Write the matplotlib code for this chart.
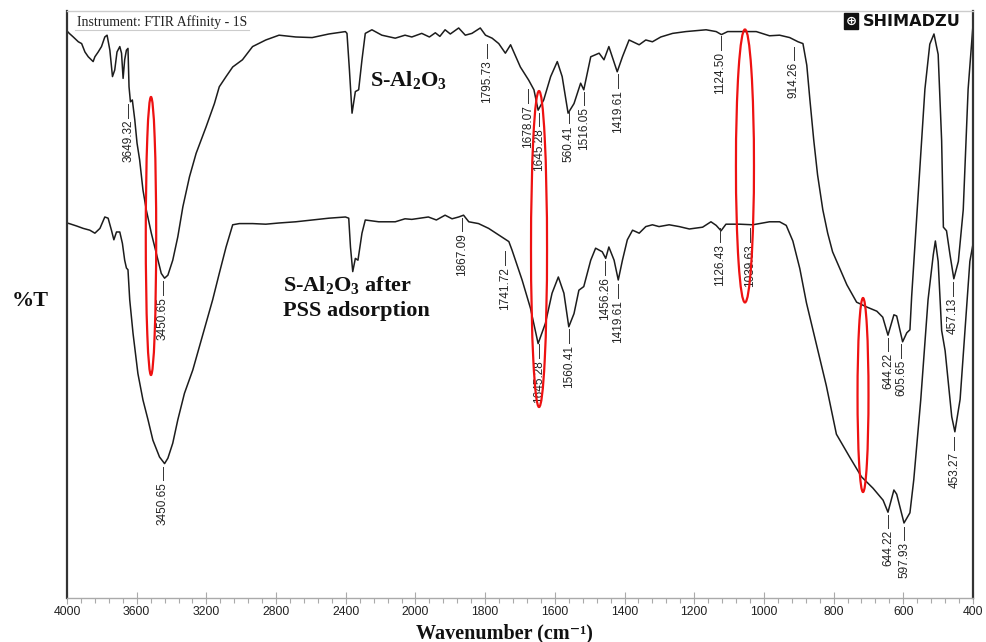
import numpy as np
import matplotlib
matplotlib.use("Agg")
import matplotlib.pyplot as plt
from matplotlib.patches import Ellipse
from matplotlib.lines import Line2D
from matplotlib import font_manager

# ---------------- data (wavenumber cm-1, %T) ----------------
spec_a = [  # S-Al2O3
    (4000, 94.5), (3987, 94.1), (3964, 93.5), (3935, 92.7), (3916, 92.4), (3897, 91.0), (3878, 90.2),
    (3850, 89.4), (3840, 90.2), (3821, 91.0), (3802, 91.9), (3783, 93.5), (3770, 93.8), (3754, 91.3),
    (3739, 86.9), (3726, 88.0), (3713, 91.0), (3697, 91.9), (3687, 90.8), (3678, 86.6), (3669, 89.7),
    (3659, 91.3), (3650, 91.6), (3644, 85.2), (3636, 82.7), (3625, 83.0), (3611, 79.7), (3598, 75.8),
    (3583, 73.0), (3564, 68.0), (3545, 64.7), (3516, 60.8), (3487, 57.4), (3459, 54.1), (3440, 53.3),
    (3421, 53.8), (3393, 56.3), (3364, 60.2), (3335, 65.2), (3297, 70.2), (3259, 74.1), (3202, 78.5),
    (3154, 82.4), (3126, 85.2), (3087, 86.9), (3049, 88.5), (2993, 89.7), (2935, 91.9), (2859, 93.0),
    (2783, 93.8), (2687, 93.5), (2593, 93.4), (2497, 94.0), (2402, 94.4), (2393, 94.1), (2379, 88.0),
    (2364, 80.8), (2345, 84.4), (2326, 84.7), (2307, 89.7), (2288, 94.1), (2250, 94.7), (2193, 93.8),
    (2116, 93.3), (2060, 93.8), (2021, 93.5), (1982, 94.1), (1960, 93.5), (1943, 94.2), (1930, 93.6),
    (1915, 94.7), (1900, 94.0), (1876, 95.0), (1857, 93.8), (1838, 94.1), (1814, 95.0), (1799, 93.8),
    (1780, 93.3), (1761, 92.4), (1742, 90.8), (1727, 92.2), (1699, 88.5), (1675, 86.3), (1660, 84.7),
    (1648, 81.3), (1632, 83.0), (1612, 86.9), (1593, 89.4), (1579, 86.9), (1562, 80.8), (1545, 82.4),
    (1526, 85.8), (1517, 84.7), (1497, 90.2), (1473, 90.8), (1459, 89.7), (1445, 91.9), (1421, 87.7),
    (1406, 90.2), (1387, 93.0), (1358, 92.2), (1339, 93.0), (1320, 92.7), (1296, 93.5), (1262, 94.1),
    (1224, 94.4), (1166, 94.7), (1137, 94.4), (1122, 93.9), (1104, 94.4), (1061, 94.4), (1022, 94.4),
    (984, 93.7), (955, 93.8), (926, 93.4), (902, 92.7), (888, 92.4), (877, 88.8), (868, 83.0),
    (857, 76.3), (846, 70.5), (831, 64.7), (817, 60.8), (803, 57.7), (783, 55.0), (762, 52.2),
    (734, 49.3), (705, 48.5), (676, 47.8), (659, 46.8), (644, 43.8), (627, 47.2), (619, 47.0),
    (602, 42.7), (590, 44.2), (581, 44.7), (576, 50.3), (557, 67.6), (538, 84.8), (524, 92.3),
    (512, 94.0), (500, 90.6), (490, 76.2), (485, 61.8), (476, 61.2), (466, 57.2), (455, 53.2),
    (442, 56.1), (428, 64.7), (414, 84.8), (401, 94.6), (400, 95.5),
]
spec_b = [  # S-Al2O3 after PSS adsorption
    (4000, 62.5), (3987, 62.4), (3945, 62.0), (3907, 61.6), (3869, 61.3), (3840, 60.8), (3811, 61.6),
    (3783, 63.5), (3764, 63.3), (3745, 61.3), (3731, 59.7), (3716, 61.0), (3697, 61.0), (3682, 59.1),
    (3669, 56.3), (3659, 55.0), (3650, 54.7), (3640, 49.7), (3621, 44.1), (3593, 37.4), (3564, 33.0),
    (3535, 29.7), (3507, 26.3), (3469, 23.5), (3440, 22.4), (3421, 23.3), (3393, 25.8), (3364, 29.7),
    (3326, 34.1), (3278, 38.0), (3240, 41.9), (3202, 45.8), (3164, 49.7), (3126, 54.1), (3087, 58.5),
    (3049, 62.2), (3011, 62.4), (2935, 62.4), (2859, 62.3), (2783, 62.5), (2687, 62.7), (2593, 63.0),
    (2497, 63.3), (2402, 63.5), (2383, 63.3), (2373, 58.5), (2360, 54.4), (2345, 56.6), (2330, 56.3),
    (2307, 60.8), (2288, 63.0), (2211, 62.7), (2116, 62.7), (2060, 63.2), (2021, 63.1), (1963, 63.5),
    (1940, 63.0), (1915, 63.8), (1895, 63.2), (1876, 63.5), (1862, 63.8), (1847, 62.7), (1819, 62.4),
    (1790, 61.6), (1761, 60.5), (1732, 59.4), (1723, 58.0), (1694, 53.0), (1670, 48.3), (1648, 42.4),
    (1627, 45.8), (1608, 50.8), (1590, 53.5), (1574, 50.8), (1560, 45.2), (1545, 47.4), (1531, 51.3),
    (1517, 51.9), (1497, 56.3), (1483, 58.3), (1464, 57.7), (1454, 56.6), (1445, 58.5), (1430, 56.3),
    (1418, 53.0), (1406, 56.3), (1392, 59.7), (1377, 61.3), (1358, 60.8), (1339, 61.9), (1320, 62.2),
    (1301, 61.9), (1272, 62.2), (1243, 61.9), (1214, 61.5), (1176, 61.8), (1152, 62.7), (1137, 62.1),
    (1123, 61.2), (1109, 62.3), (1070, 62.3), (1032, 62.2), (1013, 62.4), (984, 62.7), (955, 62.7),
    (936, 62.1), (917, 59.5), (897, 54.9), (878, 49.2), (859, 44.6), (840, 40.0), (821, 35.4),
    (792, 27.3), (754, 23.5), (720, 20.2), (687, 18.3), (658, 16.3), (644, 14.3), (627, 18.0),
    (619, 17.3), (598, 12.5), (581, 14.2), (570, 19.7), (550, 33.0), (529, 49.7), (514, 57.2),
    (508, 59.5), (500, 56.1), (490, 44.6), (480, 41.2), (471, 36.0), (461, 30.2), (452, 27.7),
    (437, 33.1), (423, 44.6), (409, 56.1), (400, 59.0),
]
wn_a, t_a = np.array(spec_a, dtype=float).T
wn_b, t_b = np.array(spec_b, dtype=float).T

# peak labels: (text, wavenumber, %T where the text starts)
peaks_a = [("3649.32", 3649.32, 79.7), ("3450.65", 3450.65, 50.2), ("1795.73", 1795.73, 89.7),
           ("1678.07", 1678.07, 82.2), ("1645.28", 1645.28, 78.3), ("560.41", 1560.41, 78.8),
           ("1516.05", 1516.05, 81.8), ("1419.61", 1419.61, 84.7), ("1124.50", 1124.50, 91.0),
           ("914.26", 914.26, 89.3), ("644.22", 644.22, 40.8), ("605.65", 605.65, 39.7),
           ("457.13", 457.13, 50.0)]
peaks_b = [("3450.65", 3450.65, 19.3), ("1867.09", 1867.09, 60.8), ("1741.72", 1741.72, 55.2),
           ("1645.28", 1645.28, 39.7), ("1560.41", 1560.41, 42.2), ("1456.26", 1456.26, 53.5),
           ("1419.61", 1419.61, 49.7), ("1126.43", 1126.43, 59.0), ("1039.63", 1039.63, 59.0),
           ("644.22", 644.22, 11.3), ("597.93", 597.93, 9.3), ("453.27", 453.27, 24.3)]

major_ticks = [4000, 3600, 3200, 2800, 2400, 2000, 1800, 1600, 1400, 1200, 1000, 800, 600, 400]
minor_ticks = list(range(4000, 2000, -80)) + list(range(2000, 399, -40))

# ---------------- style ----------------
names = {f.name for f in font_manager.fontManager.ttflist}
if "Liberation Sans Narrow" in names:
    lab_family, lab_size = ["Liberation Sans Narrow"], 10.5
else:
    lab_family, lab_size = ["Liberation Sans"], 8.5

plt.rcParams["mathtext.fontset"] = "custom"
plt.rcParams["mathtext.rm"] = "Liberation Serif"
plt.rcParams["mathtext.bf"] = "Liberation Serif:bold"
plt.rcParams["mathtext.it"] = "Liberation Serif:italic"

W, H = 986, 642
fig = plt.figure(figsize=(W / 100, H / 100), dpi=100)
ax = fig.add_axes([67 / W, 44 / H, 906 / W, 587 / H])


def fwd(w):
    w = np.asarray(w, dtype=float)
    return np.where(w > 2000, 2000 + (w - 2000) / 2.0, w)


def inv(t):
    t = np.asarray(t, dtype=float)
    return np.where(t > 2000, 2000 + (t - 2000) * 2.0, t)


ax.set_xscale("function", functions=(fwd, inv))
ax.set_xlim(4000, 400)
ax.set_ylim(0, 97.83)

line_col = "#1c1c1c"
ax.plot(wn_a, t_a, color=line_col, lw=1.1)
ax.plot(wn_b, t_b, color=line_col, lw=1.1)

for peaks in (peaks_a, peaks_b):
    for txt, w, t in peaks:
        ax.plot([w, w], [t + 0.3, t + 2.6], color="#333333", lw=0.7)
        ax.text(w, t, txt, rotation=90, ha="center", va="top", family=lab_family,
                fontsize=lab_size, color="#222222")

ax.set_xticks(major_ticks)
ax.set_xticklabels([str(v) for v in major_ticks])
ax.set_xticks(minor_ticks, minor=True)
ax.set_yticks([])
ax.tick_params(axis="x", which="major", direction="inout", length=8, width=0.8,
               color="#aaaaaa", labelsize=8.8, labelcolor="#222222", pad=1.5)
ax.tick_params(axis="x", which="minor", direction="out", length=3.6, width=0.8, color="#aaaaaa")
for lab in ax.get_xticklabels():
    lab.set_family(["Liberation Sans"])

ax.spines["left"].set_color("#333333")
ax.spines["left"].set_linewidth(1.6)
ax.spines["right"].set_color("#333333")
ax.spines["right"].set_linewidth(1.6)
ax.spines["top"].set_color("#cccccc")
ax.spines["top"].set_linewidth(1.0)
ax.spines["bottom"].set_color("#aaaaaa")
ax.spines["bottom"].set_linewidth(1.0)

# red ellipses (axes fractions)
for cx, cy, ew, eh in [(0.0927, 0.6167, 0.0115, 0.4736), (0.5210, 0.5945, 0.0177, 0.5383),
                       (0.7483, 0.7360, 0.0199, 0.4650), (0.8786, 0.3458, 0.0121, 0.3305)]:
    ax.add_patch(Ellipse((cx, cy), ew, eh, transform=ax.transAxes, fill=False,
                         ec="#ee1111", lw=1.6, clip_on=False, zorder=5))


def fx(px):
    return px / W


def fy(py):
    return 1 - py / H


serif = ["Liberation Serif", "DejaVu Serif"]
fig.text(fx(77), fy(22), "Instrument: FTIR Affinity - 1S", family=serif, fontsize=9.9,
         ha="left", va="center", color="#222222")
fig.add_artist(Line2D([fx(75), fx(249)], [fy(30), fy(30)], color="#cccccc", lw=0.8))

fig.text(fx(851), fy(21), "\u2295", family=["DejaVu Sans"], fontsize=9.5, color="white",
         ha="center", va="center", fontweight="bold",
         bbox=dict(boxstyle="square,pad=0.12", fc="#111111", ec="#111111"))
fig.text(fx(863), fy(21), "SHIMADZU", family=["DejaVu Sans"], fontsize=11.6, fontweight="bold",
         ha="left", va="center", color="#111111")

fig.text(fx(370), fy(80), r"S-Al$_\mathbf{2}$O$_\mathbf{3}$", family=serif, fontsize=16,
         fontweight="bold", ha="left", va="center", color="#111111")
fig.text(fx(283), fy(285), r"S-Al$_\mathbf{2}$O$_\mathbf{3}$ after", family=serif, fontsize=16,
         fontweight="bold", ha="left", va="center", color="#111111")
fig.text(fx(283), fy(311), "PSS adsorption", family=serif, fontsize=16,
         fontweight="bold", ha="left", va="center", color="#111111")
fig.text(fx(12), fy(301), "%T", family=serif, fontsize=16, fontweight="bold",
         ha="left", va="center", color="#111111")
fig.text(fx(504), fy(638), "Wavenumber (cm\u207b\u00b9)", family=serif, fontsize=14.5,
         fontweight="bold", ha="center", va="baseline", color="#111111")

fig.savefig("out.png", dpi=100, facecolor="white")
